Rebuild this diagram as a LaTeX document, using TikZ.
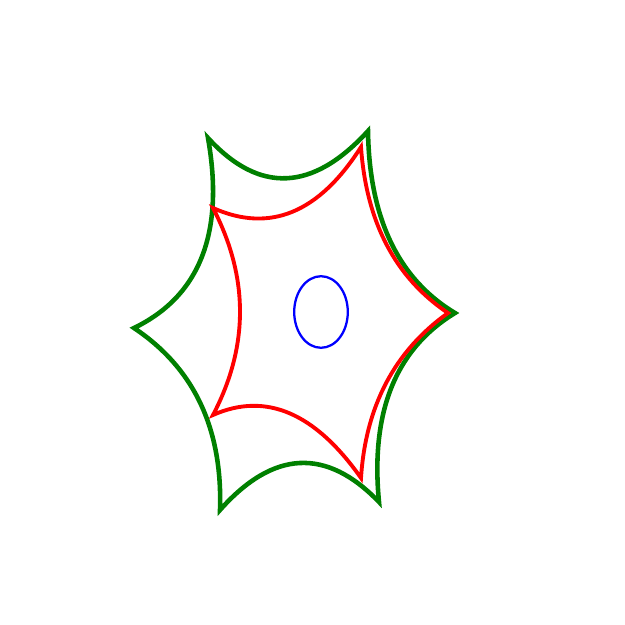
\documentclass[tikz,border=0pt]{standalone}
\usepackage{amsmath,amssymb}
\usepackage{tikz}
\usetikzlibrary{calc}
\usepackage{xcolor}

\begin{document}
\begin{tikzpicture}[x=0.02cm,y=-0.02cm,
  greenline/.style={draw=green!50!black,line width=2.6pt,line join=miter},
  redline/.style={draw=red,line width=2.2pt,line join=miter},
  blueloop/.style={draw=blue,line width=1.3pt}]
\useasboundingbox (0,0) rectangle (625,625);
% outer six corners and their bends
\coordinate (g1) at (208,138);
\coordinate (g2) at (368,131);
\coordinate (g3) at (455,313);
\coordinate (g4) at (379,502);
\coordinate (g5) at (220,510);
\coordinate (g6) at (134,328);
\coordinate (c12) at (285,222);
\coordinate (c23) at (370,262);
\coordinate (c34) at (366,367);
\coordinate (c45) at (300,420);
\coordinate (c56) at (224,388);
\coordinate (c61) at (233,280);
% inner five corners
\coordinate (r1) at (213,208);
\coordinate (r2) at (361,147);
\coordinate (r3) at (448,313);
\coordinate (r4) at (361,478);
\coordinate (r5) at (213,415);
\coordinate (d12) at (298,246);
\coordinate (d23) at (369,260);
\coordinate (d34) at (368,370);
\coordinate (d45) at (292,380);
\coordinate (d51) at (267,312);
\coordinate (o) at (321,312);

\draw[greenline] (g1)
  .. controls ($(g1)!2/3!(c12)$) and ($(g2)!2/3!(c12)$) .. (g2)
  .. controls ($(g2)!2/3!(c23)$) and ($(g3)!2/3!(c23)$) .. (g3)
  .. controls ($(g3)!2/3!(c34)$) and ($(g4)!2/3!(c34)$) .. (g4)
  .. controls ($(g4)!2/3!(c45)$) and ($(g5)!2/3!(c45)$) .. (g5)
  .. controls ($(g5)!2/3!(c56)$) and ($(g6)!2/3!(c56)$) .. (g6)
  .. controls ($(g6)!2/3!(c61)$) and ($(g1)!2/3!(c61)$) .. (g1) -- cycle;
\draw[redline] (r1)
  .. controls ($(r1)!2/3!(d12)$) and ($(r2)!2/3!(d12)$) .. (r2)
  .. controls ($(r2)!2/3!(d23)$) and ($(r3)!2/3!(d23)$) .. (r3)
  .. controls ($(r3)!2/3!(d34)$) and ($(r4)!2/3!(d34)$) .. (r4)
  .. controls ($(r4)!2/3!(d45)$) and ($(r5)!2/3!(d45)$) .. (r5)
  .. controls ($(r5)!2/3!(d51)$) and ($(r1)!2/3!(d51)$) .. (r1) -- cycle;
\draw[blueloop] (o) ellipse[x radius=0.536cm,y radius=0.716cm];
\end{tikzpicture}
\end{document}
